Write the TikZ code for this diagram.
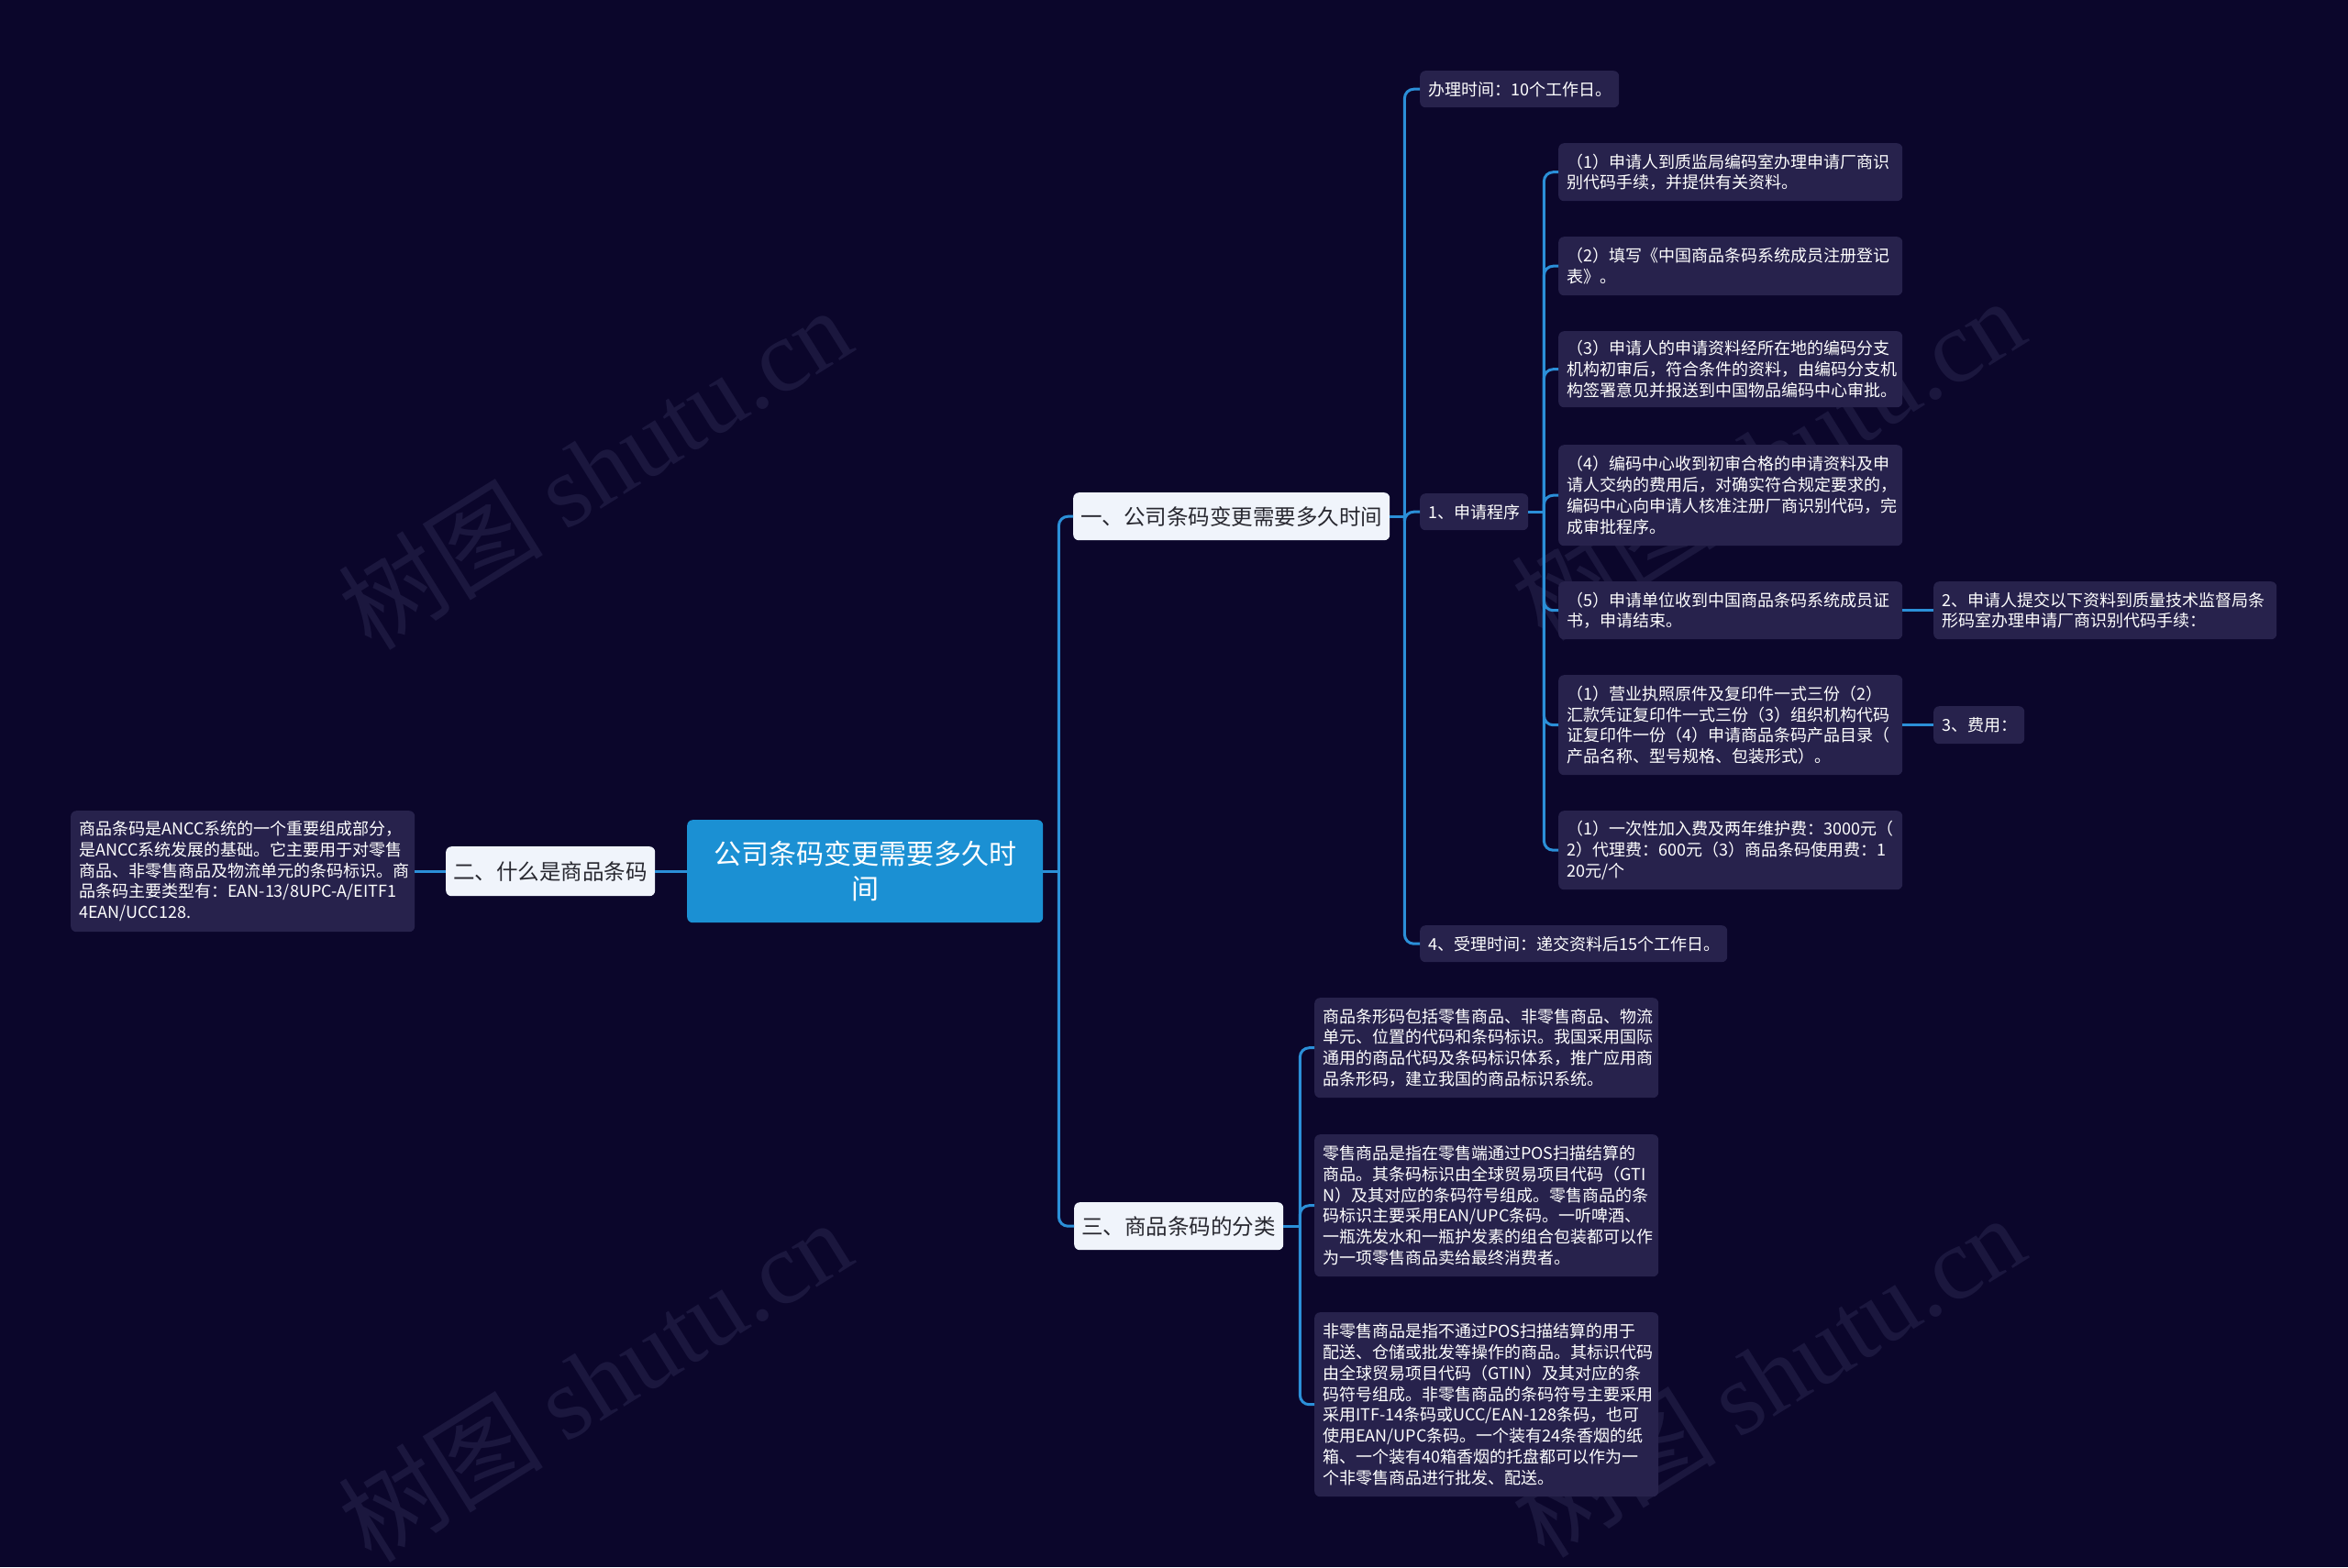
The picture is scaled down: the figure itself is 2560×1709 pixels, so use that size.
\documentclass[tikz,border=0pt]{standalone}
\usepackage{fontspec}
\setmainfont{Noto Sans CJK SC}
\newfontfamily\wmserif{Liberation Serif}
\definecolor{bgc}{RGB}{11,6,43}
\definecolor{boxc}{RGB}{39,34,76}
\definecolor{lightc}{RGB}{240,244,251}
\definecolor{textdark}{RGB}{40,40,48}
\definecolor{ctrc}{RGB}{27,144,211}
\definecolor{linec}{RGB}{43,143,216}
\definecolor{wmc}{RGB}{27,23,62}
\tikzset{
  conn/.style={draw=linec, line width=3pt, rounded corners=10pt},
  darkbox/.style={fill=boxc, rounded corners=6pt, text=white, align=left, inner xsep=9pt, inner ysep=0pt, anchor=north west, font=\fontsize{18}{22.8}\selectfont},
  lightbox/.style={fill=lightc, rounded corners=6pt, text=textdark, align=center, inner sep=0pt, anchor=north west, font=\fontsize{23.5}{28}\selectfont},
  ctrbox/.style={fill=ctrc, rounded corners=6pt, text=white, align=center, inner sep=0pt, anchor=north west, font=\fontsize{30}{38}\selectfont},
  wmark/.style={text=wmc, rotate=32, font=\fontsize{112}{112}\selectfont}
}
\begin{document}
\begin{tikzpicture}[x=1pt,y=-1pt]
\useasboundingbox (0,0) rectangle (2560,1709);
\fill[bgc] (0,0) rectangle (2560,1709);
% watermarks
\node[wmark] (wm1) at (648,510) {树图 {\wmserif shutu.cn}};
\node[wmark] (wm2) at (1927,500) {树图 {\wmserif shutu.cn}};
\node[wmark] (wm3) at (648,1505) {树图 {\wmserif shutu.cn}};
\node[wmark] (wm4) at (1927,1500) {树图 {\wmserif shutu.cn}};
% centre
\node[ctrbox, text width=388pt, minimum height=112pt] (ctr) at (749,894) {公司条码变更需要多久时\\间};
% level 1
\node[lightbox, text width=345pt, minimum height=52pt] (n1) at (1170,537) {一、公司条码变更需要多久时间};
\node[lightbox, text width=228pt, minimum height=54pt] (n2) at (486,923) {二、什么是商品条码};
\node[lightbox, text width=228pt, minimum height=52pt] (n3) at (1171,1311) {三、商品条码的分类};
% left description
\node[darkbox, text width=357pt, minimum height=132pt] (desc) at (77,884) {商品条码是ANCC系统的一个重要组成部分，\\是ANCC系统发展的基础。它主要用于对零售\\商品、非零售商品及物流单元的条码标识。商\\品条码主要类型有：EAN-13/8UPC-A/EITF1\\4EAN/UCC128.};
% level 2 under n1
\node[darkbox, text width=199pt, minimum height=40pt] (t1) at (1548,77) {办理时间：10个工作日。};
\node[darkbox, text width=100pt, minimum height=40pt] (t2) at (1548,538) {1、申请程序};
\node[darkbox, text width=317pt, minimum height=40pt] (t3) at (1548,1009) {4、受理时间：递交资料后15个工作日。};
% level 3 under t2
\node[darkbox, text width=357pt, minimum height=63pt] (p1) at (1699,156) {（1）申请人到质监局编码室办理申请厂商识\\别代码手续，并提供有关资料。};
\node[darkbox, text width=357pt, minimum height=64pt] (p2) at (1699,258) {（2）填写《中国商品条码系统成员注册登记\\表》。};
\node[darkbox, text width=357pt, minimum height=83pt] (p3) at (1699,361) {（3）申请人的申请资料经所在地的编码分支\\机构初审后，符合条件的资料，由编码分支机\\构签署意见并报送到中国物品编码中心审批。};
\node[darkbox, text width=357pt, minimum height=110pt] (p4) at (1699,485) {（4）编码中心收到初审合格的申请资料及申\\请人交纳的费用后，对确实符合规定要求的，\\编码中心向申请人核准注册厂商识别代码，完\\成审批程序。};
\node[darkbox, text width=357pt, minimum height=63pt] (p5) at (1699,634) {（5）申请单位收到中国商品条码系统成员证\\书，申请结束。};
\node[darkbox, text width=357pt, minimum height=109pt] (p6) at (1699,736) {（1）营业执照原件及复印件一式三份（2）\\汇款凭证复印件一式三份（3）组织机构代码\\证复印件一份（4）申请商品条码产品目录（\\产品名称、型号规格、包装形式）。};
\node[darkbox, text width=357pt, minimum height=86pt] (p7) at (1699,884) {（1）一次性加入费及两年维护费：3000元（\\2）代理费：600元（3）商品条码使用费：1\\20元/个};
\node[darkbox, text width=356pt, minimum height=63pt] (q1) at (2108,634) {2、申请人提交以下资料到质量技术监督局条\\形码室办理申请厂商识别代码手续：};
\node[darkbox, text width=81pt, minimum height=41pt] (q2) at (2108,770) {3、费用：};
% level 2 under n3
\node[darkbox, text width=357pt, minimum height=109pt] (a1) at (1433,1088) {商品条形码包括零售商品、非零售商品、物流\\单元、位置的代码和条码标识。我国采用国际\\通用的商品代码及条码标识体系，推广应用商\\品条形码，建立我国的商品标识系统。};
\node[darkbox, text width=357pt, minimum height=155pt] (a2) at (1433,1237) {零售商品是指在零售端通过POS扫描结算的\\商品。其条码标识由全球贸易项目代码（GTI\\N）及其对应的条码符号组成。零售商品的条\\码标识主要采用EAN/UPC条码。一听啤酒、\\一瓶洗发水和一瓶护发素的组合包装都可以作\\为一项零售商品卖给最终消费者。};
\node[darkbox, text width=357pt, minimum height=201pt] (a3) at (1433,1431) {非零售商品是指不通过POS扫描结算的用于\\配送、仓储或批发等操作的商品。其标识代码\\由全球贸易项目代码（GTIN）及其对应的条\\码符号组成。非零售商品的条码符号主要采用\\采用ITF-14条码或UCC/EAN-128条码，也可\\使用EAN/UPC条码。一个装有24条香烟的纸\\箱、一个装有40箱香烟的托盘都可以作为一\\个非零售商品进行批发、配送。};
% trunk coordinates
\coordinate (c0) at ([xshift=17pt]ctr.east);
\coordinate (c1) at ([xshift=16pt]n1.east);
\coordinate (c2) at ([xshift=17pt]t2.east);
\coordinate (c3) at ([xshift=18pt]n3.east);
% connectors
\draw[conn] (ctr.east) -- (c0);
\draw[conn] (c0) |- (n1.west);
\draw[conn] (c0) |- (n3.west);
\draw[conn] (ctr.west) -- (n2.east);
\draw[conn] (n2.west) -- (desc.east);
\draw[conn] (n1.east) -- (c1);
\draw[conn] (c1) |- (t1.west);
\draw[conn] (c1) |- (t2.west);
\draw[conn] (c1) |- (t3.west);
\draw[conn] (t2.east) -- (c2);
\foreach \p in {p1,p2,p3,p4,p5,p6,p7} {\draw[conn] (c2) |- (\p.west);}
\draw[conn] (p5.east) -- (q1.west);
\draw[conn] (p6.east) -- (q2.west);
\draw[conn] (n3.east) -- (c3);
\foreach \a in {a1,a2,a3} {\draw[conn] (c3) |- (\a.west);}
\end{tikzpicture}
\end{document}
